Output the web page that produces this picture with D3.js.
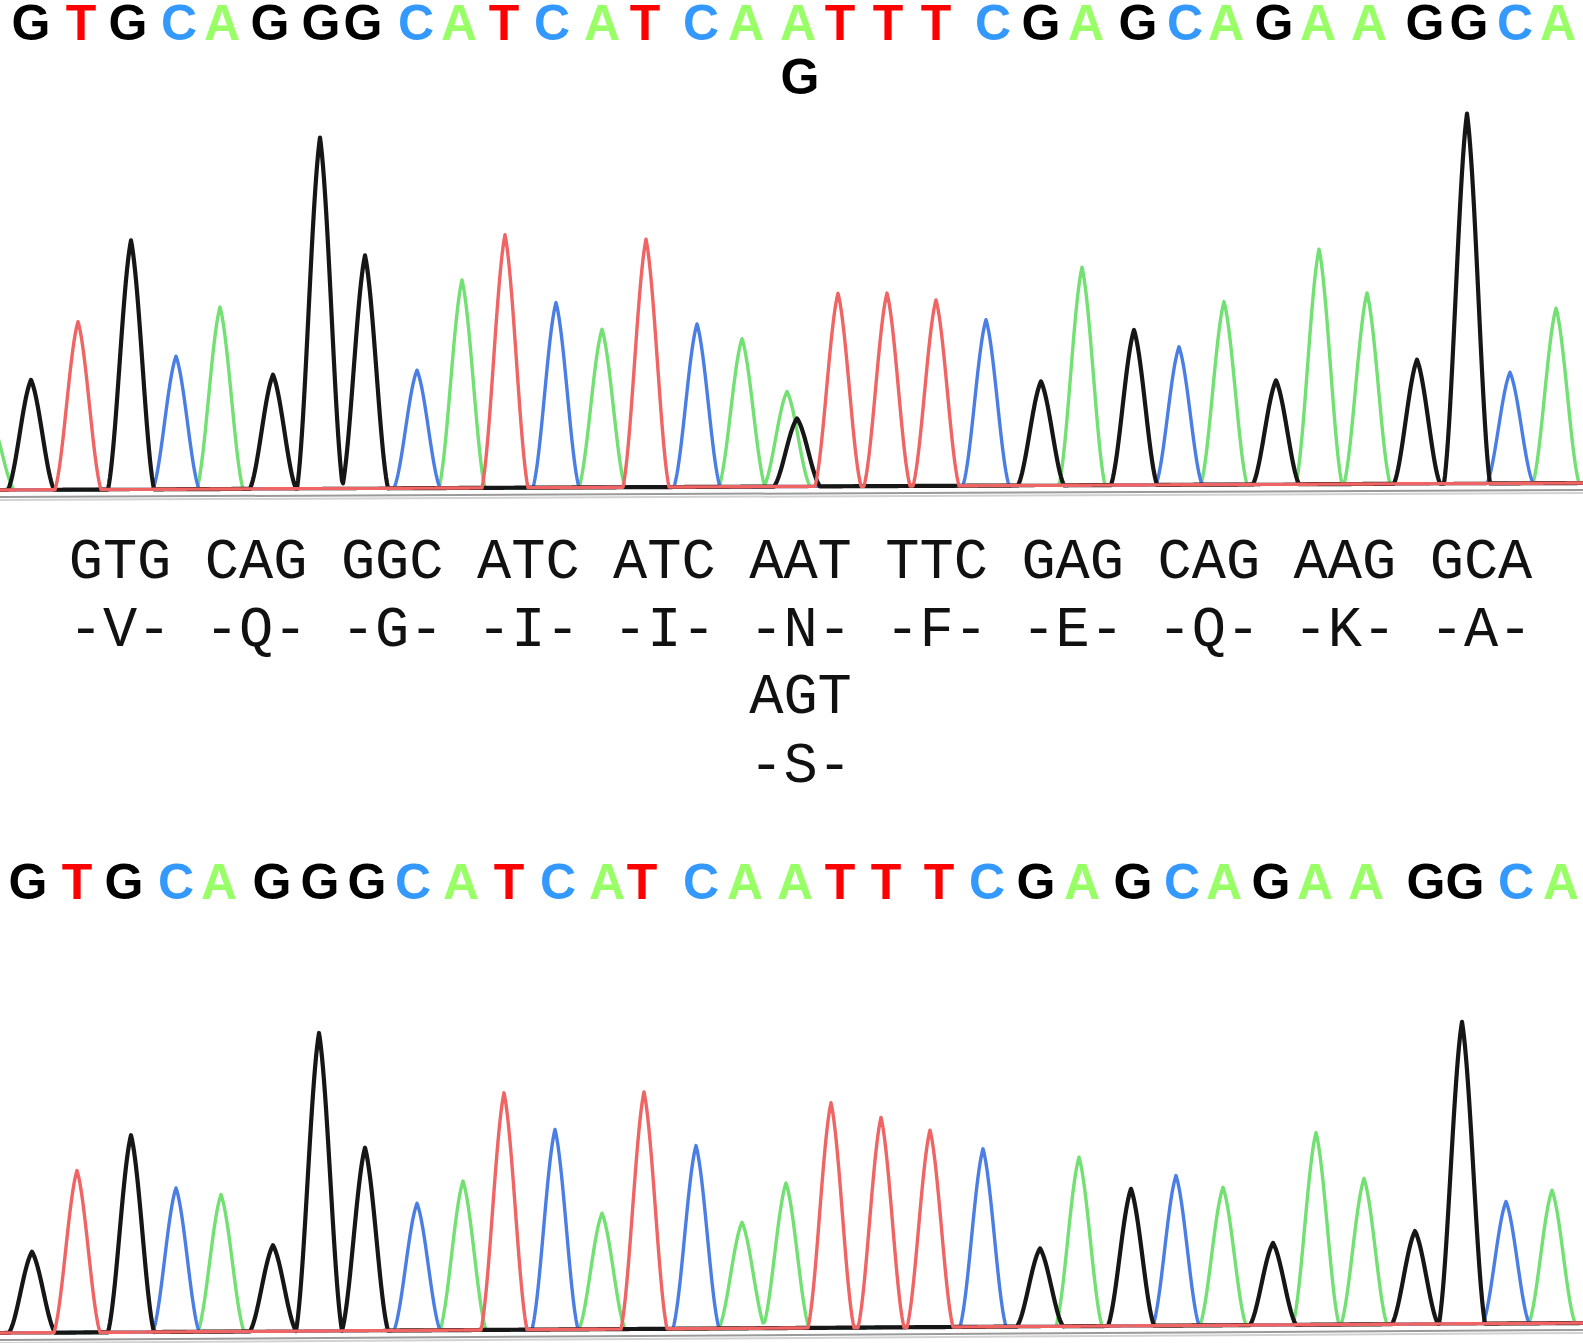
<!DOCTYPE html>
<html>
<head>
<meta charset="utf-8">
<script src="https://cdn.jsdelivr.net/npm/d3@7"></script>
<style>
html, body { margin: 0; padding: 0; background: #fff; }
svg { display: block; }
.call { font-family: Arial, "Liberation Sans", sans-serif; font-weight: bold; font-size: 50px; text-anchor: middle; }
.codon { font-family: "Courier New", "Liberation Mono", monospace; font-size: 57px; text-anchor: middle; fill: #111; }
</style>
</head>
<body>
<svg id="chart"></svg>
<script>
var width = 1583, height = 1343;

// base calls (same read for both traces)
var bases = "GTGCAGGGCATCATCAATTTCGAGCAGAAGGCA".split("");

// upper trace: call positions, peak positions, peak heights
var topCallX = [31, 81, 128, 179, 222, 270, 321, 363, 416, 459, 504, 552, 602, 645, 701, 746, 798, 840, 888, 936, 993, 1041, 1086, 1138, 1185, 1226, 1274, 1318, 1369, 1425, 1469, 1515, 1558];
var topPeakX = [31, 78, 131, 176, 220, 273, 320, 365, 417, 462, 505, 556, 602, 646, 697, 742, 787, 838, 887, 936, 986, 1041, 1082, 1134, 1179, 1224, 1276, 1319, 1367, 1417, 1467, 1510, 1556];
var topPeakH = [110, 168, 249, 133, 182, 114, 351, 233, 118, 208, 253, 185, 158, 248, 163, 148, 95, 193, 193, 186, 166, 104, 218, 155, 138, 183, 104, 235, 191, 124, 370, 111, 175];
// extra peaks: tail at the left edge, and the second allele at the mutated site
var topExtraBase = ["A", "G"];
var topExtraX = [-9, 797];
var topExtraH = [70, 68];
var topDrift = [0, 7];

// the heterozygous call shown under the upper sequence
var altCallIndex = 16;
var altCallBase = "G";

// lower trace
var botCallX = [28, 77, 124, 176, 219, 272, 320, 367, 413, 461, 509, 558, 607, 642, 701, 745, 795, 840, 886, 939, 987, 1036, 1082, 1133, 1182, 1224, 1271, 1315, 1366, 1426, 1465, 1516, 1561];
var botPeakX = [32, 77, 131, 176, 221, 273, 319, 365, 417, 463, 504, 555, 602, 644, 696, 742, 786, 831, 881, 930, 983, 1040, 1079, 1131, 1176, 1223, 1273, 1316, 1364, 1415, 1462, 1506, 1552];
var botPeakH = [81, 162, 197, 144, 137, 86, 298, 183, 127, 149, 237, 200, 116, 237, 183, 106, 145, 225, 210, 197, 178, 78, 169, 137, 150, 138, 82, 192, 146, 93, 302, 122, 133];
var botDrift = [0, 10];

// codon translation
var codons = ["GTG", "CAG", "GGC", "ATC", "ATC", "AAT", "TTC", "GAG", "CAG", "AAG", "GCA"];
var aminoAcids = ["V", "Q", "G", "I", "I", "N", "F", "E", "Q", "K", "A"];
var variantIndex = 5;
var variantCodon = "AGT";
var variantAA = "S";

var channels = ["A", "C", "G", "T"];
var traceColor = { A: "#72e072", C: "#4a7ee4", G: "#161616", T: "#f06464" };
var callColor = { A: "#99ff66", C: "#3399ff", G: "#000000", T: "#ff0000" };
var traceWidth = { A: 3.4, C: 3.4, G: 4.2, T: 3.4 };
var halfBase = 23;

var svg = d3.select("#chart")
    .attr("width", width)
    .attr("height", height)
    .attr("viewBox", `0 0 ${width} ${height}`);

svg.append("rect").attr("width", width).attr("height", height).attr("fill", "#fff");

var x = d3.scaleLinear().domain([0, 1583]).range([0, width]);
var yTop = d3.scaleLinear().domain([0, 400]).range([490, 90]);
var yBot = d3.scaleLinear().domain([0, 400]).range([1333, 933]);

// peak profile: half triangle, half raised cosine
function shape(d) {
    var u = Math.abs(d) / halfBase;
    if (u >= 1) return 0;
    var c = Math.cos(Math.PI * u / 2);
    return 0.45 * (1 - u) + 0.55 * c * c;
}

function buildTrace(pBase, pX, pH, drift) {
    var scans = d3.range(-15, 1600, 1);
    return channels.map(function (ch) {
        var values = scans.map(function (s) {
            var v = drift[0] + (drift[1] - drift[0]) * s / 1583;
            for (var i = 0; i < pX.length; i++) {
                if (pBase[i] !== ch) continue;
                v += pH[i] * shape(s - pX[i]);
            }
            return [s, v];
        });
        return { base: ch, values: values };
    });
}

function drawTrace(traces, y, drift) {
    var g = svg.append("g");
    // grey axis lines under the trace
    [[-7, "#9a9a9a"], [-10, "#d2d2d2"]].forEach(function (a) {
        g.append("line")
            .attr("x1", x(0)).attr("x2", x(1583))
            .attr("y1", y(a[0] + drift[0])).attr("y2", y(a[0] + drift[1]))
            .attr("stroke", a[1]).attr("stroke-width", 2);
    });
    var line = d3.line()
        .x(function (d) { return x(d[0]); })
        .y(function (d) { return y(d[1]); });
    g.selectAll("path.trace")
        .data(traces)
        .enter()
        .append("path")
        .attr("class", "trace")
        .attr("d", function (d) { return line(d.values); })
        .attr("fill", "none")
        .attr("stroke", function (d) { return traceColor[d.base]; })
        .attr("stroke-width", function (d) { return traceWidth[d.base]; })
        .attr("stroke-linejoin", "round");
}

function drawCalls(callX, yPos) {
    svg.append("g")
        .selectAll("text")
        .data(bases)
        .enter()
        .append("text")
        .attr("class", "call")
        .attr("x", function (d, i) { return x(callX[i]); })
        .attr("y", yPos)
        .attr("fill", function (d) { return callColor[d]; })
        .text(function (d) { return d; });
}

// upper panel
var topTraces = buildTrace(bases.concat(topExtraBase), topPeakX.concat(topExtraX), topPeakH.concat(topExtraH), topDrift);
drawTrace(topTraces, yTop, topDrift);
drawCalls(topCallX, 40);
svg.append("text")
    .attr("class", "call")
    .attr("x", x(topCallX[altCallIndex]) + 2)
    .attr("y", 94)
    .attr("fill", callColor[altCallBase])
    .text(altCallBase);

// codons and amino acids
var cx = d3.scalePoint().domain(d3.range(codons.length)).range([120, 1481]);
var cg = svg.append("g");
cg.selectAll("text.cod")
    .data(codons).enter().append("text")
    .attr("class", "codon")
    .attr("x", function (d, i) { return cx(i); })
    .attr("y", 578)
    .text(function (d) { return d; });
cg.selectAll("text.aa")
    .data(aminoAcids).enter().append("text")
    .attr("class", "codon")
    .attr("x", function (d, i) { return cx(i); })
    .attr("y", 646)
    .text(function (d) { return "-" + d + "-"; });
cg.append("text").attr("class", "codon")
    .attr("x", cx(variantIndex)).attr("y", 713)
    .text(variantCodon);
cg.append("text").attr("class", "codon")
    .attr("x", cx(variantIndex)).attr("y", 782)
    .text("-" + variantAA + "-");

// lower panel
drawCalls(botCallX, 899);
var botTraces = buildTrace(bases, botPeakX, botPeakH, botDrift);
drawTrace(botTraces, yBot, botDrift);
</script>
</body>
</html>
